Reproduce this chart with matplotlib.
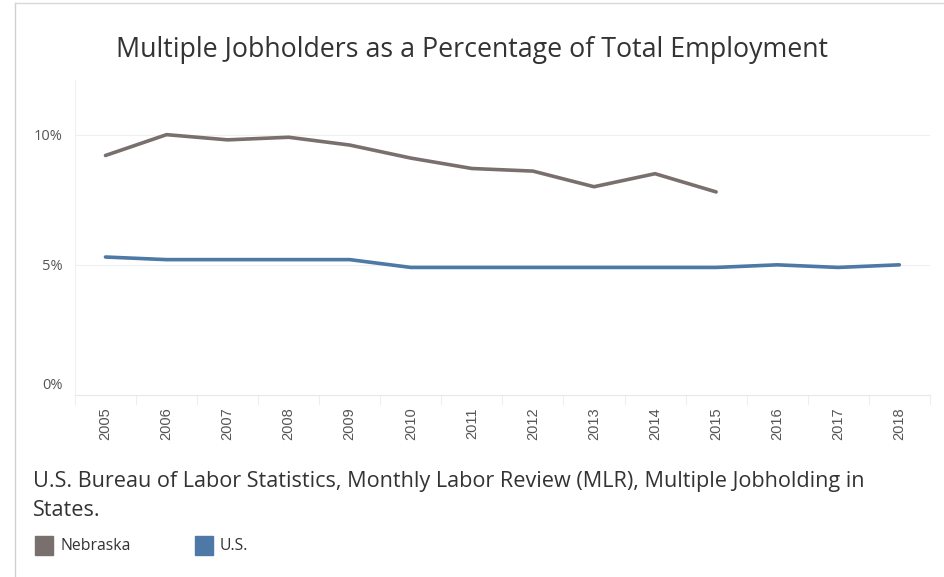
import matplotlib.pyplot as plt
import matplotlib.transforms as mtransforms
from matplotlib.lines import Line2D
from matplotlib.patches import Rectangle

# -------------------------------
# Data
# -------------------------------
years = [2005, 2006, 2007, 2008, 2009, 2010, 2011, 2012, 2013, 2014, 2015, 2016, 2017, 2018]
nebraska_years = [2005, 2006, 2007, 2008, 2009, 2010, 2011, 2012, 2013, 2014, 2015]
nebraska = [9.2, 10.0, 9.8, 9.9, 9.6, 9.1, 8.7, 8.6, 8.0, 8.5, 7.8]
us = [5.3, 5.2, 5.2, 5.2, 5.2, 4.9, 4.9, 4.9, 4.9, 4.9, 4.9, 5.0, 4.9, 5.0]
y_ticks = [0, 5, 10]
y_labels = ['0%', '5%', '10%']

neb_color = '#79706e'
us_color = '#4e79a7'

plt.rcParams['font.family'] = ['Open Sans', 'DejaVu Sans']

fig = plt.figure(figsize=(9.44, 5.77), dpi=100)
ax = fig.add_axes([0.0794, 0.3154, 0.985 - 0.0794, 0.8614 - 0.3154])

ax.plot(nebraska_years, nebraska, color=neb_color, lw=2.6, solid_capstyle='round')
ax.plot(years, us, color=us_color, lw=2.6, solid_capstyle='round')

ax.set_xlim(2004.5, 2018.5)
ax.set_ylim(0, 12.1)
ax.set_yticks(y_ticks)
ax.set_yticklabels(y_labels, fontsize=10.5, color='#555555')
ax.set_xticks(years)
ax.set_xticklabels([str(y) for y in years], rotation=90, fontsize=10.5, color='#555555',
                   family=['Liberation Sans', 'DejaVu Sans'])
ax.tick_params(axis='y', length=0, pad=9)
ax.tick_params(axis='x', length=0, pad=9)

# the bottom label sits a little above the axis line, as in the reference
zero_lbl = ax.get_yticklabels()[0]
zero_lbl.set_transform(zero_lbl.get_transform() +
                       mtransforms.ScaledTranslation(0, 8 / 72, fig.dpi_scale_trans))

for y in [5, 10]:
    ax.axhline(y, color='#efefef', lw=0.8, zorder=0)
for s in ['top', 'right', 'left']:
    ax.spines[s].set_visible(False)
ax.spines['bottom'].set_color('#e8e8e8')
ax.axvline(2004.5, color='#f0f0f0', lw=0.8, zorder=0)

# small separator ticks between the year labels
for x in range(len(years) + 1):
    ax.plot([2004.5 + x, 2004.5 + x], [0, -0.35], color='#eeeeee', lw=0.8,
            clip_on=False)

fig.text(0.5, 1 - 50 / 577, 'Multiple Jobholders as a Percentage of Total Employment',
         ha='center', va='center', fontsize=19.3, color='#333333')
fig.text(33 / 944, 1 - 481 / 577,
         'U.S. Bureau of Labor Statistics, Monthly Labor Review (MLR), Multiple Jobholding in',
         ha='left', va='center', fontsize=15.6, color='#333333')
fig.text(33 / 944, 1 - 510 / 577, 'States.',
         ha='left', va='center', fontsize=15.6, color='#333333')

# legend
fig.patches.append(Rectangle((35 / 944, 1 - 555 / 577), 18 / 944, 19 / 577,
                             transform=fig.transFigure, color=neb_color))
fig.text(60 / 944, 1 - 546 / 577, 'Nebraska', ha='left', va='center', fontsize=11.3, color='#333333')
fig.patches.append(Rectangle((195 / 944, 1 - 555 / 577), 18 / 944, 19 / 577,
                             transform=fig.transFigure, color=us_color))
fig.text(220 / 944, 1 - 546 / 577, 'U.S.', ha='left', va='center', fontsize=11.3, color='#333333')

# frame lines on the left and top
fig.add_artist(Line2D([15 / 944, 15 / 944], [0, 1 - 3 / 577], color='#d0d0d0', lw=1))
fig.add_artist(Line2D([15 / 944, 1], [1 - 3 / 577, 1 - 3 / 577], color='#d8d8d8', lw=1))

fig.savefig('out.png', dpi=100)
